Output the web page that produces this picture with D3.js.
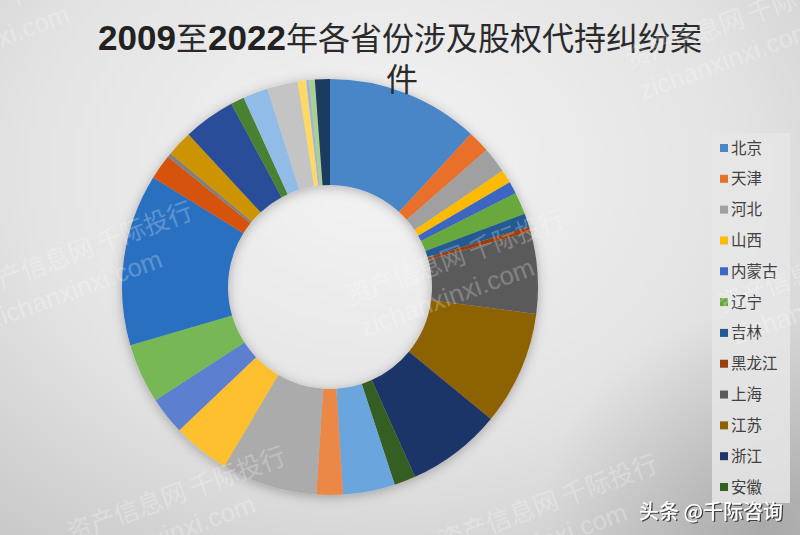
<!DOCTYPE html>
<html>
<head>
<meta charset="utf-8">
<script src="https://cdn.jsdelivr.net/npm/d3@7/dist/d3.min.js"></script>
<style>
html,body{margin:0;padding:0;background:#e0e0e0;}
svg{display:block;}
</style>
</head>
<body>
<svg id="chart" width="800" height="535"></svg>
<script>
// ---- data ----
const provinces = ["北京","天津","河北","山西","内蒙古","辽宁","吉林","黑龙江","上海","江苏","浙江","安徽",
  "福建","江西","山东","河南","湖北","湖南","广东","广西","海南","重庆","四川","贵州","云南","西藏",
  "陕西","甘肃","青海","宁夏","新疆"];
const cases = [214,31,36,19,17,31,19,7,115,160,133,30,
  73,37,134,80,53,84,241,35,6,36,73,19,35,0,
  43,12,4,8,21];
const colors = ["#4a86c8","#e8702a","#a0a0a0","#fcbb04","#3d65c2","#67a83e","#245a91","#9a3e0d","#5a5a5a","#8c6300","#1e3567","#365f22",
  "#6aa6dd","#ec8844","#ababab","#fec02e","#5b7fd0","#78b755","#2a6fc0","#d5520f","#808080","#cc9400","#2a4d99","#4a8030","#91bce8","#f4b183",
  "#c4c4c4","#ffd966","#9fb3e4","#a9d18e","#1f3a63"];
const legendCount = 12;
const titleParts = [["2009","d"],["至","c"],["2022","d"],["年各省份涉及股权代持纠纷案","c"]];
const titleLine2 = "件";
const watermark1 = "资产信息网 千际投行";
const watermark2 = "zichanxinxi.com";
const stamp = "头条 @千际咨询";

const W = 800, H = 535;
const svg = d3.select("#chart");
const defs = svg.append("defs");

// background
const bg = defs.append("radialGradient").attr("id","bg").attr("gradientUnits","userSpaceOnUse")
  .attr("cx",380).attr("cy",170).attr("r",600)
  .attr("gradientTransform","translate(380,170) scale(1,0.78) translate(-380,-170)");
bg.append("stop").attr("offset","0").attr("stop-color","#f4f4f4");
bg.append("stop").attr("offset","0.6").attr("stop-color","#e3e3e3");
bg.append("stop").attr("offset","1").attr("stop-color","#c9c9c9");
svg.append("rect").attr("width",W).attr("height",H).attr("fill","url(#bg)");
const dk = defs.append("radialGradient").attr("id","dk").attr("gradientUnits","userSpaceOnUse")
  .attr("cx",760).attr("cy",530).attr("r",220);
dk.append("stop").attr("offset","0").attr("stop-color","#000").attr("stop-opacity",0.16);
dk.append("stop").attr("offset","1").attr("stop-color","#000").attr("stop-opacity",0);
svg.append("rect").attr("width",W).attr("height",H).attr("fill","url(#dk)");

// shadow filter
const f = defs.append("filter").attr("id","sh").attr("x","-20%").attr("y","-20%").attr("width","140%").attr("height","140%");
f.append("feDropShadow").attr("dx",0).attr("dy",2).attr("stdDeviation",6).attr("flood-color","#000").attr("flood-opacity",0.28);

// donut
const cx = 330, cy = 287, R = 208, r0 = 102;
const pie = d3.pie().sort(null).value(d => d).startAngle(0).endAngle(2*Math.PI);
const arc = d3.arc().innerRadius(r0).outerRadius(R);
const g = svg.append("g").attr("transform",`translate(${cx},${cy})`).attr("filter","url(#sh)");
g.selectAll("path").data(pie(cases)).join("path")
  .attr("d",arc).attr("fill",(d,i)=>colors[i]);

// title
const t = svg.append("text").attr("x",400).attr("y",50).attr("text-anchor","middle").attr("fill","#2a2a2a");
titleParts.forEach(([s,k])=>{
  const ts = t.append("tspan").text(s);
  if(k==="d") ts.attr("font-family","'Liberation Sans Narrow','Liberation Sans',sans-serif").attr("font-weight","bold").attr("font-size",35).attr("fill","#222");
  else ts.attr("font-family","'Noto Sans CJK SC',sans-serif").attr("font-weight",400).attr("font-size",32);
});
svg.append("text").attr("x",402).attr("y",91).attr("text-anchor","middle").attr("fill","#2a2a2a")
  .attr("font-family","'Noto Sans CJK SC',sans-serif").attr("font-weight",400).attr("font-size",32).text(titleLine2);

// legend
const lg = svg.append("g");
lg.append("rect").attr("x",712).attr("y",133).attr("width",78).attr("height",370).attr("fill","#e6e6e6").attr("opacity",0.85);
const ly = d3.scaleLinear().domain([0,legendCount-1]).range([148,487]);
const items = lg.selectAll("g.item").data(provinces.slice(0,legendCount)).join("g").attr("class","item")
  .attr("transform",(d,i)=>`translate(720,${ly(i)})`);
items.append("rect").attr("x",0).attr("y",-4).attr("width",8).attr("height",8).attr("fill",(d,i)=>colors[i]);
items.append("text").attr("x",11).attr("y",5.5).attr("font-family","'Noto Sans CJK SC',sans-serif")
  .attr("font-size",15.5).attr("fill","#404040").text(d=>d);

// watermarks
const O = [350,305], A = [372,8], B = [93,245];
const wm = svg.append("g").attr("fill","#ffffff").attr("opacity",0.26);
for(let i=-1;i<=2;i++){
  for(let j=-2;j<=1;j++){
    if(i===0 && j===-1) continue;
    const x = O[0]+i*A[0]+j*B[0], y = O[1]+i*A[1]+j*B[1];
    if(x<-300||x>820||y<-60||y>620) continue;
    const wg = wm.append("g").attr("transform",`translate(${x},${y}) rotate(-20)`);
    wg.append("text").attr("font-family","'Noto Sans CJK SC',sans-serif").attr("font-size",25).text(watermark1);
    wg.append("text").attr("x",2).attr("y",35).attr("font-family","'Liberation Sans',sans-serif").attr("font-size",26).text(watermark2);
  }
}

// stamp
svg.append("text").attr("x",639).attr("y",519).attr("font-family","'Noto Sans CJK SC',sans-serif")
  .attr("font-size",20).attr("font-weight",500).attr("fill","#222").attr("opacity",0.8)
  .attr("transform","translate(1.2,1.2)").text(stamp);
svg.append("text").attr("x",639).attr("y",519).attr("font-family","'Noto Sans CJK SC',sans-serif")
  .attr("font-size",20).attr("font-weight",500).attr("fill","#ffffff").text(stamp);
</script>
</body>
</html>
